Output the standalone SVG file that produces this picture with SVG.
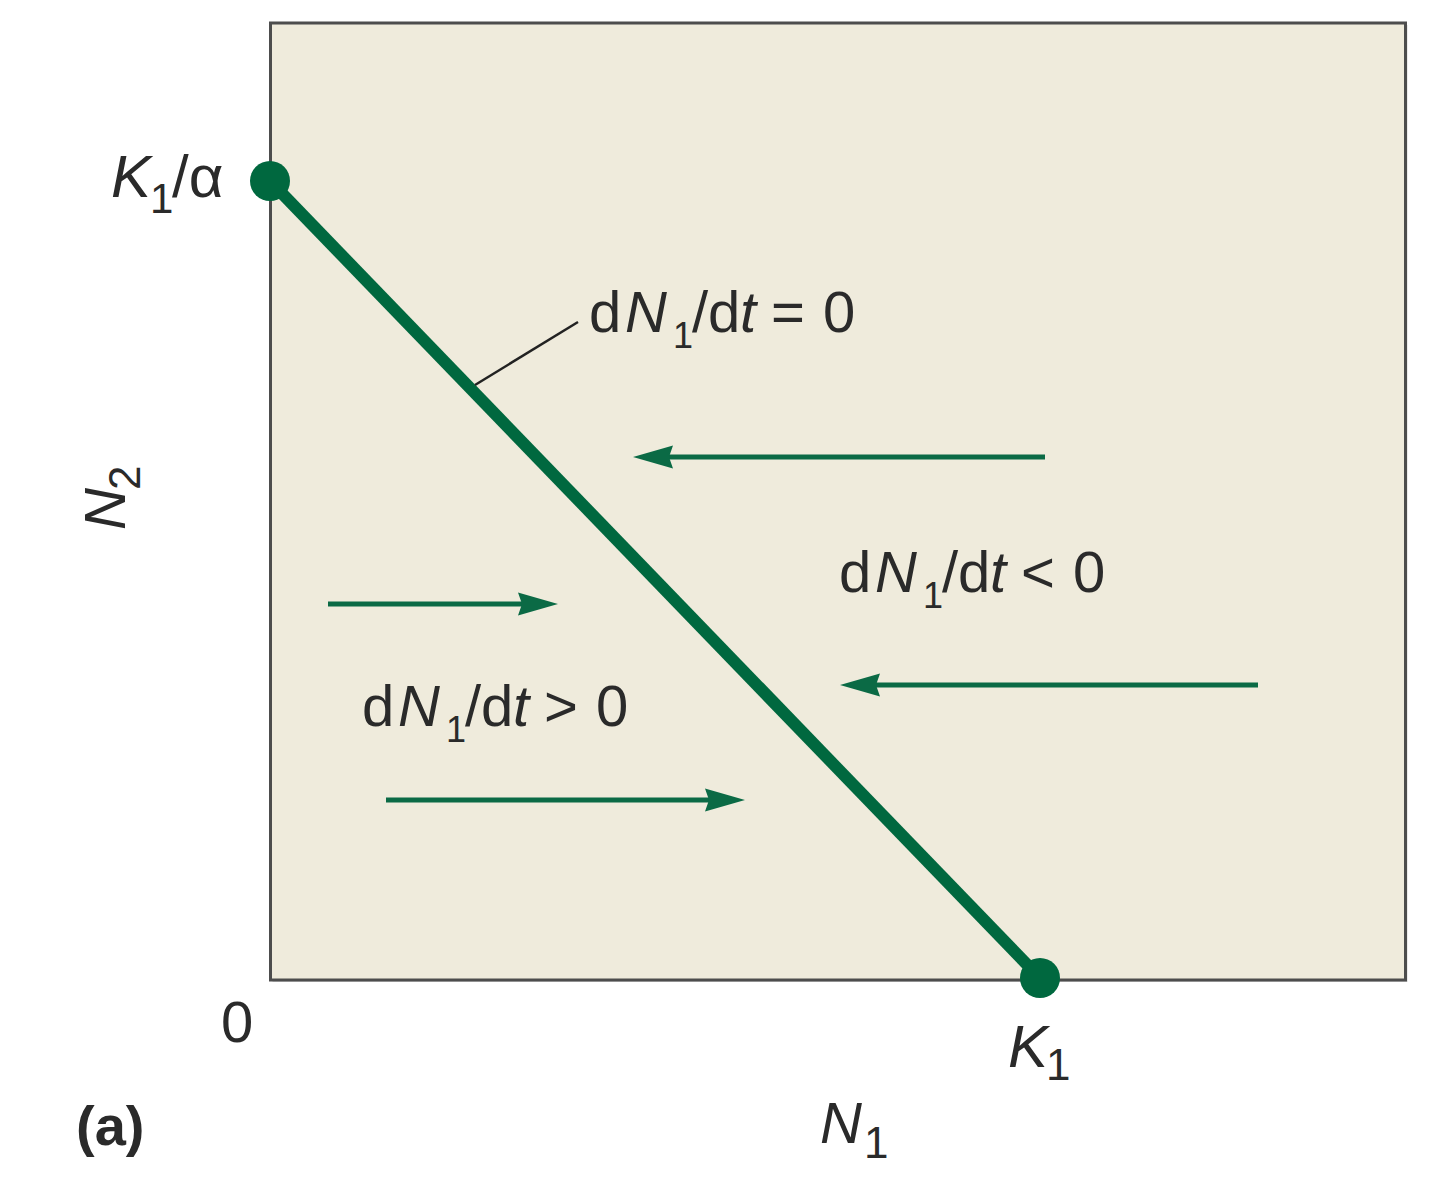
<svg xmlns="http://www.w3.org/2000/svg" width="1431" height="1200" viewBox="0 0 1431 1200">
<style>
text { font-family: "Liberation Sans", Arial, sans-serif; fill: #2a2a2a; font-size: 58px; }
.ax { font-size: 58px; }
.it { font-style: italic; }
.sub { font-size: 36px; }
.subk { font-size: 44px; }
.bold { font-weight: bold; font-size: 56px; }
.arrow { stroke: #0b6a45; stroke-width: 5; fill: none; }
.head { fill: #0b6a45; }
</style>
<defs>
<path id="hd" d="M0,0 L40,-11.5 L36,0 L40,11.5 Z"/>
</defs>
<rect width="1431" height="1200" fill="#ffffff"/>
<g id="frame">
<rect x="272.5" y="25" width="1135" height="957" fill="#8a8a8a" opacity="0.35"/>
<rect x="270.5" y="23" width="1135" height="957" fill="#efebdc" stroke="#4d4d4d" stroke-width="3"/>
</g>
<g id="connectors">
<line x1="270" y1="181" x2="1040" y2="978" stroke="#00683f" stroke-width="12"/>
<line x1="475" y1="385" x2="578" y2="322" stroke="#222" stroke-width="2.5"/>
<line class="arrow" x1="1045" y1="457" x2="668" y2="457"/>
<use href="#hd" class="head" transform="translate(633,457)"/>
<line class="arrow" x1="328" y1="604" x2="523" y2="604"/>
<use href="#hd" class="head" transform="translate(558,604) rotate(180)"/>
<line class="arrow" x1="1258" y1="685" x2="875" y2="685"/>
<use href="#hd" class="head" transform="translate(840,685)"/>
<line class="arrow" x1="386" y1="800" x2="710" y2="800"/>
<use href="#hd" class="head" transform="translate(745,800) rotate(180)"/>
</g>
<g id="node-k1-alpha">
<circle cx="270" cy="181" r="20" fill="#00683f"/>
<text style="font-size:60px" y="197"><tspan x="111" class="it">K</tspan><tspan style="font-size:42px" x="150" y="213">1</tspan><tspan x="172" y="197">/α</tspan></text>
</g>
<g id="node-k1">
<circle cx="1040" cy="978" r="20" fill="#00683f"/>
<text style="font-size:60px" y="1067"><tspan x="1008" class="it">K</tspan><tspan class="subk" x="1046" y="1080">1</tspan></text>
</g>
<g id="label-zero-isocline">
<text y="332"><tspan x="589">d</tspan><tspan x="625" class="it">N</tspan><tspan class="sub" x="673" y="348">1</tspan><tspan x="692" y="332">/d</tspan><tspan x="740" class="it">t</tspan><tspan x="771">=</tspan><tspan x="823">0</tspan></text>
</g>
<g id="label-negative">
<text y="592"><tspan x="839">d</tspan><tspan x="875" class="it">N</tspan><tspan class="sub" x="923" y="608">1</tspan><tspan x="942" y="592">/d</tspan><tspan x="990" class="it">t</tspan><tspan x="1021">&lt;</tspan><tspan x="1073">0</tspan></text>
</g>
<g id="label-positive">
<text y="726"><tspan x="362">d</tspan><tspan x="398" class="it">N</tspan><tspan class="sub" x="446" y="742">1</tspan><tspan x="465" y="726">/d</tspan><tspan x="513" class="it">t</tspan><tspan x="544">&gt;</tspan><tspan x="596">0</tspan></text>
</g>
<g id="axis-labels">
<text class="ax" x="221" y="1042">0</text>
<text class="ax" y="1143"><tspan x="820" class="it">N</tspan><tspan class="subk" x="864" y="1158">1</tspan></text>
<text class="ax" transform="translate(125,530) rotate(-90)"><tspan x="0" y="0" class="it">N</tspan><tspan class="subk" x="40" y="15">2</tspan></text>
<text class="bold" x="76" y="1145">(a)</text>
</g>
</svg>
